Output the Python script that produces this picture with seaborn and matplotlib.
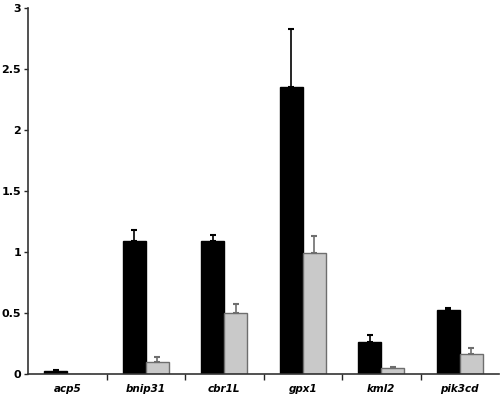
import pandas as pd
import numpy as np
import matplotlib.pyplot as plt
import seaborn as sns

genes = ["acp5", "bnip31", "cbr1L", "gpx1", "kml2", "pik3cd"]
black_vals = [0.02, 1.09, 1.09, 2.35, 0.26, 0.52]
black_err = [0.01, 0.09, 0.05, 0.48, 0.06, 0.02]
grey_vals = [0.0, 0.10, 0.50, 0.99, 0.05, 0.16]
grey_err = [0.0, 0.04, 0.07, 0.14, 0.005, 0.05]

df = pd.DataFrame({
    "gene": genes * 2,
    "value": black_vals + grey_vals,
    "err": black_err + grey_err,
    "group": ["A"] * len(genes) + ["B"] * len(genes),
})

sns.set_style("white")
plt.rcParams["font.family"] = ["DejaVu Sans"]

fig = plt.figure(figsize=(5, 3.96), dpi=100)
ax = fig.add_axes([0.056, 0.056, 0.942, 0.924])

sns.barplot(data=df, x="gene", y="value", hue="group", hue_order=["A", "B"],
            palette=["black", "#c9c9c9"], errorbar=None, width=0.58,
            edgecolor=None, linewidth=0, ax=ax, legend=False)

# grey bars get a darker outline, black stay plain
edges = {"A": "black", "B": "#6e6e6e"}
for cont, grp in zip(ax.containers, ["A", "B"]):
    sub = df[df.group == grp]
    for bar, v, e in zip(cont, sub["value"], sub["err"]):
        bar.set_edgecolor(edges[grp])
        bar.set_linewidth(1.0)
        if e > 0:
            xc = bar.get_x() + bar.get_width() / 2
            ax.errorbar(xc, v, yerr=[[0], [e]], fmt="none",
                        ecolor=edges[grp] if grp == "B" else "black",
                        elinewidth=1.2, capsize=2.5, capthick=1.5)

ax.set_xlim(-0.5, 5.5)
ax.set_ylim(0, 3)
ax.set_yticks([0, 0.5, 1, 1.5, 2, 2.5, 3])
ax.set_yticklabels(["0", "0.5", "1", "1.5", "2", "2.5", "3"],
                   fontsize=8, fontweight="bold", color="black")
ax.set_xticks(range(len(genes)))
ax.set_xticklabels(genes, fontsize=7.5, fontweight="bold", style="italic", color="black")
ax.tick_params(axis="x", length=0, pad=7)
ax.tick_params(axis="y", length=3, width=1, direction="out", pad=2, left=True)
ax.set_xticks(np.arange(0.5, 5.5, 1), minor=True)
ax.tick_params(axis="x", which="minor", length=4, width=1, direction="out", bottom=True)
ax.set_xlabel("")
ax.set_ylabel("")

for s in ["top", "right"]:
    ax.spines[s].set_visible(False)
for s in ["left", "bottom"]:
    ax.spines[s].set_color("#333333")
    ax.spines[s].set_linewidth(1.2)

fig.savefig("out.png", dpi=100)
